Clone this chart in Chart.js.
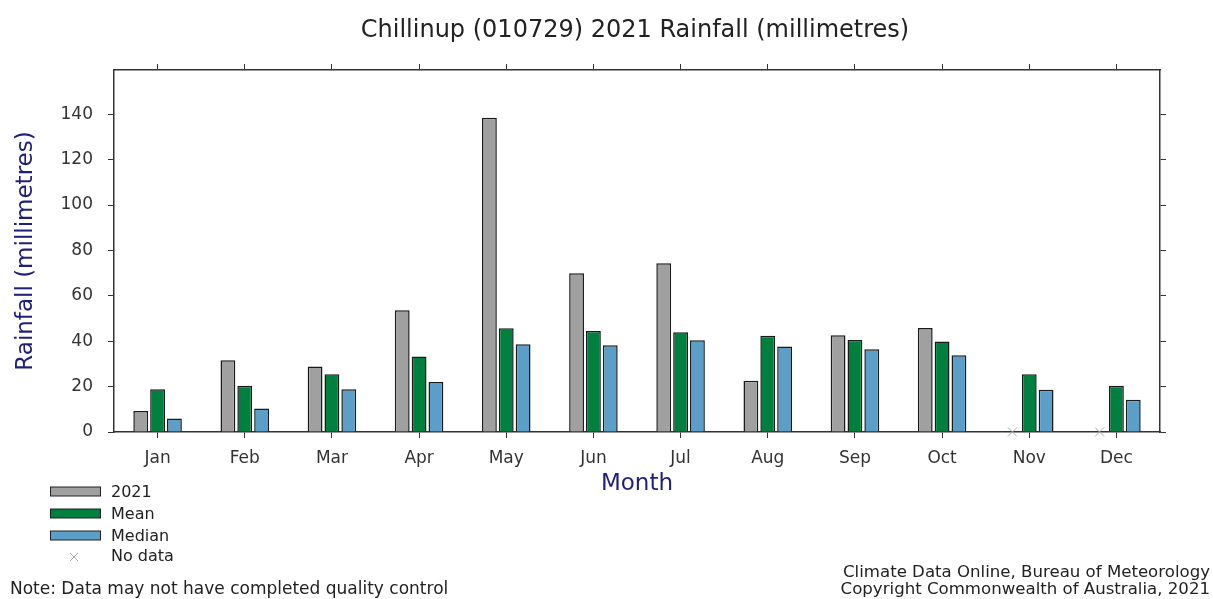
<!DOCTYPE html>
<html>
<head>
<meta charset="utf-8">
<script src="https://cdn.jsdelivr.net/npm/chart.js@4.4.0/dist/chart.umd.min.js"></script>
<style>
body { margin: 0; background: #fff; }
#wrap { width: 1213px; height: 599px; position: relative; }
</style>
</head>
<body>
<div id="wrap"><canvas id="rain_chart"></canvas></div>
<script>
var months = ['Jan', 'Feb', 'Mar', 'Apr', 'May', 'Jun', 'Jul', 'Aug', 'Sep', 'Oct', 'Nov', 'Dec'];
var rain2021 = [9.2, 31.6, 28.9, 53.6, 138.5, 70.0, 74.4, 22.6, 42.6, 45.8, null, null];
var rainMean = [18.8, 20.4, 25.4, 33.3, 45.7, 44.5, 43.9, 42.4, 40.5, 39.9, 25.4, 20.4];
var rainMedian = [5.9, 10.4, 18.8, 22.0, 38.7, 38.2, 40.4, 37.7, 36.5, 33.8, 18.6, 14.2];
var yTicks = [0, 20, 40, 60, 80, 100, 120, 140];

var FONT = 'DejaVu Sans';
var frame = '#333';

function fixTicks(s) {
    s.ticks = yTicks.map(function (v) { return { value: v }; });
}

function cross(ctx, x, y, r) {
    ctx.beginPath();
    ctx.moveTo(x - r, y - r); ctx.lineTo(x + r, y + r);
    ctx.moveTo(x - r, y + r); ctx.lineTo(x + r, y - r);
    ctx.stroke();
}

// title, legend, no-data marks and footer notes
var extras = {
    id: 'extras',
    afterDatasetsDraw(chart) {
        var ctx = chart.ctx;
        var meta = chart.getDatasetMeta(0);
        var y0 = chart.scales.y.getPixelForValue(0);
        ctx.save();
        ctx.strokeStyle = '#aaa';
        ctx.lineWidth = 1;
        rain2021.forEach(function (v, i) {
            if (v === null) cross(ctx, meta.data[i].x, y0, 4.5);
        });
        ctx.restore();
    },
    afterDraw(chart) {
        var ctx = chart.ctx;
        ctx.save();
        ctx.fillStyle = '#222';
        ctx.font = '24px "' + FONT + '"';
        ctx.textAlign = 'center';
        ctx.textBaseline = 'middle';
        ctx.fillText('Chillinup (010729) 2021 Rainfall (millimetres)', 635, 31);

        // legend
        var items = [
            ['2021', '#a0a0a0'],
            ['Mean', '#00803f'],
            ['Median', '#5b9fc8']
        ];
        ctx.font = '16px "' + FONT + '"';
        ctx.textAlign = 'left';
        items.forEach(function (it, i) {
            var cy = 491.5 + i * 22;
            ctx.fillStyle = it[1];
            ctx.fillRect(50, cy - 4.5, 50, 9);
            ctx.strokeStyle = '#222';
            ctx.lineWidth = 1;
            ctx.strokeRect(50.5, cy - 4.5, 50, 9);
            ctx.fillStyle = '#222';
            ctx.fillText(it[0], 111, cy + 1);
        });
        ctx.strokeStyle = '#aaa';
        cross(ctx, 74, 557, 4);
        ctx.fillStyle = '#222';
        ctx.fillText('No data', 111, 557);

        ctx.font = '17px "' + FONT + '"';
        ctx.textBaseline = 'alphabetic';
        ctx.fillText('Note: Data may not have completed quality control', 10, 594);
        ctx.font = '16.6px "' + FONT + '"';
        ctx.textAlign = 'right';
        ctx.textBaseline = 'middle';
        ctx.fillText('Climate Data Online, Bureau of Meteorology', 1210, 573);
        ctx.fillText('Copyright Commonwealth of Australia, 2021', 1210, 590);
        ctx.restore();
    }
};

var gridOpts = {
    drawOnChartArea: false,
    drawTicks: true,
    tickLength: 6,
    offset: false,
    color: frame,
    tickColor: frame,
    lineWidth: 1
};
var borderOpts = { display: true, color: frame, width: 1.5 };

window.onload = function () {
    var ctx1 = document.getElementById('rain_chart');
    new Chart(ctx1, {
        type: 'bar',
        data: {
            labels: months,
            datasets: [{
                label: '2021',
                data: rain2021,
                backgroundColor: '#a0a0a0'
            }, {
                label: 'Mean',
                data: rainMean,
                backgroundColor: '#00803f'
            }, {
                label: 'Median',
                data: rainMedian,
                backgroundColor: '#5b9fc8'
            }]
        },
        options: {
            responsive: true,
            maintainAspectRatio: false,
            animation: false,
            layout: { padding: 0 },
            datasets: {
                bar: {
                    borderColor: '#1a1a1a',
                    borderWidth: 1.5,
                    categoryPercentage: 0.58,
                    barPercentage: 0.88
                }
            },
            plugins: {
                legend: { display: false },
                tooltip: { enabled: false },
                title: { display: false }
            },
            scales: {
                x: {
                    position: 'bottom',
                    offset: true,
                    grid: gridOpts,
                    border: borderOpts,
                    ticks: { color: '#333', font: { family: FONT, size: 17 }, padding: 10, maxRotation: 0 },
                    title: {
                        display: true, text: 'Month', color: '#1f1f7a',
                        font: { family: FONT, size: 23 }, padding: { top: 0, bottom: 101 }
                    },
                    afterFit(s) { s.height = 167; }
                },
                x2: {
                    type: 'category',
                    labels: months,
                    position: 'top',
                    offset: true,
                    grid: gridOpts,
                    border: borderOpts,
                    ticks: { display: false },
                    afterFit(s) { s.height = 70; }
                },
                y: {
                    position: 'left',
                    min: 0,
                    max: 159.5,
                    afterBuildTicks: fixTicks,
                    grid: gridOpts,
                    border: borderOpts,
                    ticks: { color: '#333', font: { family: FONT, size: 17 }, padding: 15 },
                    title: {
                        display: true, text: 'Rainfall (millimetres)', color: '#1f1f7a',
                        font: { family: FONT, size: 23 }, padding: { top: 12, bottom: 0 }
                    },
                    afterFit(s) { s.width = 114; }
                },
                y2: {
                    position: 'right',
                    min: 0,
                    max: 159.5,
                    afterBuildTicks: fixTicks,
                    grid: gridOpts,
                    border: borderOpts,
                    ticks: { display: false },
                    afterFit(s) { s.width = 53; }
                }
            }
        },
        plugins: [extras]
    });
};
</script>
</body>
</html>
